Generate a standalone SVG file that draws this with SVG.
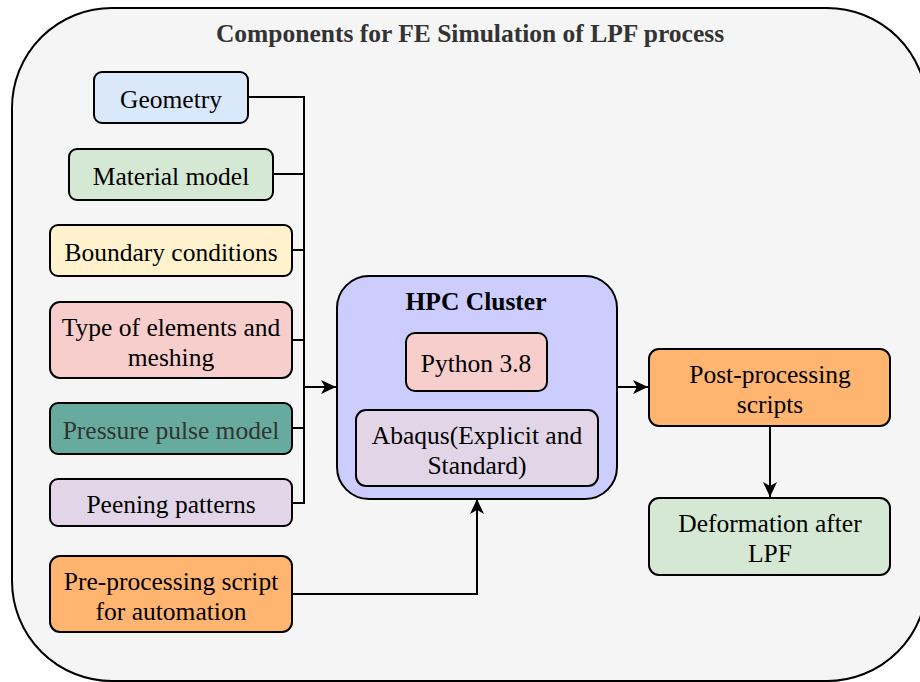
<svg xmlns="http://www.w3.org/2000/svg" width="920" height="682" viewBox="0 0 920 682">
  <defs>
    <marker id="arrow" markerUnits="userSpaceOnUse" markerWidth="16" markerHeight="14" refX="15" refY="7" orient="auto">
      <path d="M0,0 L15,7 L0,14 L4,7 Z" fill="#000"/>
    </marker>
  </defs>
  <style>
    .box { stroke: #000; stroke-width: 2; }
    .lbl { font-family: "Liberation Serif", "Times New Roman", serif; font-size: 25.5px; fill: #000; text-anchor: middle; }
    .bold { font-weight: bold; }
    .edge { fill: none; stroke: #000; stroke-width: 2; }
  </style>

  <!-- outer container -->
  <g id="container">
    <rect x="12" y="8" width="915" height="673" rx="100" ry="100" fill="#f5f5f5" stroke="#000" stroke-width="2"/>
    <text class="lbl bold" x="470" y="42" style="fill:#333">Components for FE Simulation of LPF process</text>
  </g>

  <!-- connectors -->
  <g id="connectors">
    <path class="edge" d="M248,97 H304"/>
    <path class="edge" d="M273,174 H304"/>
    <path class="edge" d="M292,250 H304"/>
    <path class="edge" d="M292,340 H304"/>
    <path class="edge" d="M292,428 H304"/>
    <path class="edge" d="M292,503 H304"/>
    <path class="edge" d="M304,96 V504"/>
    <path class="edge" d="M304,387 H336" marker-end="url(#arrow)"/>
    <path class="edge" d="M292,594 H477 V499" marker-end="url(#arrow)"/>
    <path class="edge" d="M617,387 H648" marker-end="url(#arrow)"/>
    <path class="edge" d="M770,426 V497" marker-end="url(#arrow)"/>
  </g>

  <g id="geometry">
    <rect class="box" x="94" y="72" width="154" height="51" rx="8" fill="#dae8fc"/>
    <text class="lbl" x="171" y="108">Geometry</text>
  </g>
  <g id="material-model">
    <rect class="box" x="69" y="149" width="204" height="51" rx="8" fill="#d5e8d4"/>
    <text class="lbl" x="171" y="185">Material model</text>
  </g>
  <g id="boundary-conditions">
    <rect class="box" x="50" y="225" width="242" height="51" rx="8" fill="#fff2cc"/>
    <text class="lbl" x="171" y="261">Boundary conditions</text>
  </g>
  <g id="elements-meshing">
    <rect class="box" x="50" y="302" width="242" height="76" rx="10" fill="#f8cecc"/>
    <text class="lbl" x="171" y="336">Type of elements and</text>
    <text class="lbl" x="171" y="366">meshing</text>
  </g>
  <g id="pressure-pulse">
    <rect class="box" x="50" y="403" width="242" height="51" rx="8" fill="#67ab9f"/>
    <text class="lbl" x="171" y="439" style="fill:#333">Pressure pulse model</text>
  </g>
  <g id="peening-patterns">
    <rect class="box" x="50" y="479" width="242" height="47" rx="8" fill="#e1d5e7"/>
    <text class="lbl" x="171" y="513">Peening patterns</text>
  </g>
  <g id="pre-processing">
    <rect class="box" x="50" y="556" width="242" height="76" rx="10" fill="#ffb570"/>
    <text class="lbl" x="171" y="590">Pre-processing script</text>
    <text class="lbl" x="171" y="620">for automation</text>
  </g>

  <g id="hpc-cluster">
    <rect class="box" x="337" y="276" width="280" height="223" rx="32" fill="#ccccff"/>
    <text class="lbl bold" x="476" y="310">HPC Cluster</text>
  </g>
  <g id="python">
    <rect class="box" x="406" y="333" width="141" height="58" rx="9" fill="#f8cecc"/>
    <text class="lbl" x="476" y="372">Python 3.8</text>
  </g>
  <g id="abaqus">
    <rect class="box" x="356" y="410" width="242" height="76" rx="10" fill="#e1d5e7"/>
    <text class="lbl" x="477" y="444">Abaqus(Explicit and</text>
    <text class="lbl" x="477" y="474">Standard)</text>
  </g>

  <g id="post-processing">
    <rect class="box" x="649" y="349" width="241" height="77" rx="10" fill="#ffb570"/>
    <text class="lbl" x="770" y="383">Post-processing</text>
    <text class="lbl" x="770" y="413">scripts</text>
  </g>
  <g id="deformation">
    <rect class="box" x="649" y="498" width="241" height="77" rx="10" fill="#d5e8d4"/>
    <text class="lbl" x="770" y="532">Deformation after</text>
    <text class="lbl" x="770" y="562">LPF</text>
  </g>
</svg>
